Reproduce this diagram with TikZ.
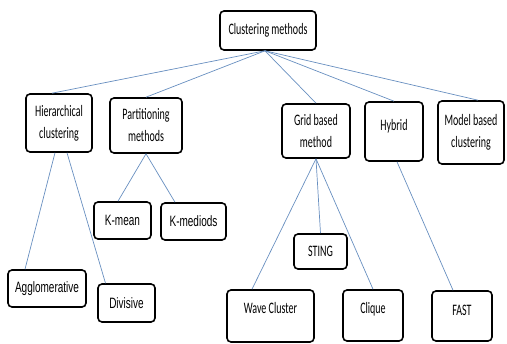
\documentclass[tikz,border=0pt]{standalone}
\usepackage{fontspec}
\setmainfont[FakeStretch = 0.625]{Carlito}
\newfontfamily\arialfont[FakeStretch = 0.667]{Liberation Sans}
\definecolor{linkblue}{RGB}{104,143,192}

\begin{document}
\begin{tikzpicture}[x = 1pt, y = -1pt]
	\tikzstyle{boxStyle} = [draw, line width = 1.6pt, rounded corners = 4pt, align = center, inner sep = 2pt, font = {\fontsize{16}{22}\selectfont}]
	\tikzstyle{arialStyle} = [boxStyle, font = {\arialfont\fontsize{15}{22}\selectfont}]
	\tikzstyle{edgeStyle} = [draw = linkblue, line width = 0.7pt]
	\useasboundingbox (0,0) rectangle (507,344);
	\node[boxStyle, minimum width = 96, minimum height = 39] (root) at (268,30.5) {Clustering methods};
	\node[boxStyle, minimum width = 66, minimum height = 58] (hier) at (59,123) {Hierarchical\\clustering};
	\node[boxStyle, minimum width = 72, minimum height = 55] (part) at (146,125.5) {Partitioning\\methods};
	\node[boxStyle, minimum width = 68, minimum height = 54] (grid) at (316,131) {Grid based\\method};
	\node[boxStyle, minimum width = 58, minimum height = 59, text depth = 13pt] (hyb) at (394,131.5) {Hybrid};
	\node[boxStyle, minimum width = 66, minimum height = 63] (model) at (471,132.5) {Model based\\clustering};
	\node[arialStyle, minimum width = 57, minimum height = 37] (kmean) at (122.5,220.5) {K-mean};
	\node[arialStyle, minimum width = 65, minimum height = 37] (kmed) at (193.5,221.5) {K-mediods};
	\node[arialStyle, minimum width = 78, minimum height = 37] (aggl) at (47,288.5) {Agglomerative};
	\node[arialStyle, minimum width = 57, minimum height = 38] (div) at (126.5,303) {Divisive};
	\node[boxStyle, minimum width = 87, minimum height = 52, text depth = 16pt] (wave) at (270.5,316) {Wave Cluster};
	\node[boxStyle, minimum width = 53, minimum height = 35] (sting) at (320.5,251.5) {STING};
	\node[boxStyle, minimum width = 60, minimum height = 51, text depth = 15pt] (clique) at (373,315.5) {Clique};
	\node[boxStyle, minimum width = 60, minimum height = 50, text depth = 12pt] (fast) at (462,316) {FAST};
	\draw[edgeStyle] ([xshift = -3pt]root.south) -- ([xshift = -7pt]hier.north);
	\draw[edgeStyle] ([xshift = -3pt]root.south) -- (part.north);
	\draw[edgeStyle] ([xshift = -3pt]root.south) -- (grid.north);
	\draw[edgeStyle] ([xshift = -3pt]root.south) -- (hyb.north);
	\draw[edgeStyle] ([xshift = -3pt]root.south) -- ([xshift = 7pt]model.north);
	\draw[edgeStyle] ([xshift = -4pt]hier.south) -- ([xshift = -22pt]aggl.north);
	\draw[edgeStyle] ([xshift = 8pt]hier.south) -- ([xshift = -21pt]div.north);
	\draw[edgeStyle] (part.south) -- ([xshift = -4.5pt]kmean.north);
	\draw[edgeStyle] (part.south) -- ([xshift = -18.5pt]kmed.north);
	\draw[edgeStyle] (grid.south) -- ([xshift = -18.5pt]wave.north);
	\draw[edgeStyle] (grid.south) -- (sting.north);
	\draw[edgeStyle] (grid.south) -- (clique.north);
	\draw[edgeStyle] ([xshift = 3pt]hyb.south) -- ([xshift = -9pt]fast.north);
\end{tikzpicture}
\end{document}
